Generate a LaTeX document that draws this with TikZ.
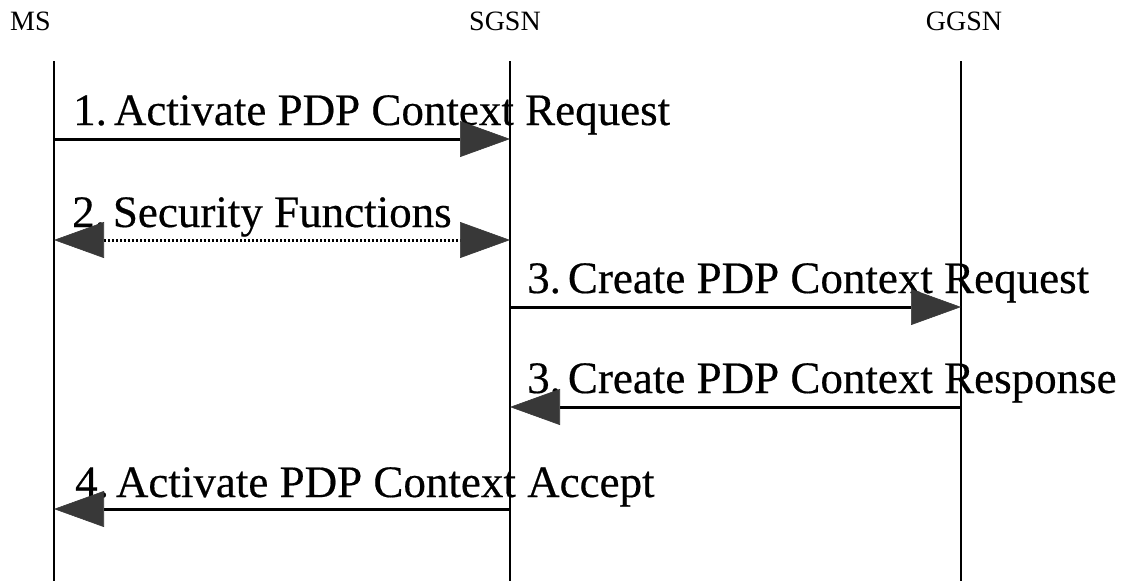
\documentclass[tikz,border=0pt]{standalone}
\usepackage{fontspec}
\setmainfont{Liberation Serif}
\newfontfamily\labelfont[FakeBold=0.4]{Liberation Serif}
\usetikzlibrary{arrows.meta}
\definecolor{tipgray}{gray}{0.22}

\begin{document}
\begin{tikzpicture}[x=1pt,y=-1pt,
  lifeline/.style={line width=1.4pt},
  head/.style={font=\fontsize{28}{30}\selectfont, inner sep=0pt, anchor=base},
  msglabel/.style={font=\labelfont\fontsize{45}{48}\selectfont, inner sep=0pt, anchor=base west},
  bigtip/.tip={Triangle[length=50pt,width=36pt,line width=0.6pt,fill=tipgray,color=tipgray]},
  msg/.style={line width=3pt, -{bigtip}},
  dotmsg/.style={line width=3pt, dash pattern=on 2.6pt off 1.4pt, {bigtip}-{bigtip}}
]
  \useasboundingbox (0,0) rectangle (1126,581);

  % entity names
  \node[head, anchor=base west] (ms)   at (10,30)  {MS};
  \node[head]                   (sgsn) at (505,30) {SGSN};
  \node[head]                   (ggsn) at (964,30) {GGSN};

  % message labels (arrows are drawn on top of them)
  \node[msglabel] (l1) at (73,125)  {1.\kern7pt Activate PDP Context Request};
  \node[msglabel] (l2) at (72,227)  {2.\kern7pt Security Functions};
  \node[msglabel] (l3) at (527,293) {3.\kern7pt Create PDP Context Request};
  \node[msglabel] (l4) at (527,393) {3.\kern7pt Create PDP Context Response};
  \node[msglabel] (l5) at (75,497)  {4.\kern7pt Activate PDP Context Accept};

  % lifeline ends
  \coordinate (msT)   at (54,61);   \coordinate (msB)   at (54,581);
  \coordinate (sgsnT) at (510,61);  \coordinate (sgsnB) at (510,581);
  \coordinate (ggsnT) at (961,61);  \coordinate (ggsnB) at (961,581);

  % message end points on the lifelines
  \coordinate (ms1) at (54,139);   \coordinate (sg1) at (510,139);
  \coordinate (ms2) at (54,240);   \coordinate (sg2) at (510,240);
  \coordinate (sg3) at (510,307);  \coordinate (gg3) at (961,307);
  \coordinate (sg4) at (510,407);  \coordinate (gg4) at (961,407);
  \coordinate (ms5) at (54,509);   \coordinate (sg5) at (510,509);

  % lifelines
  \draw[lifeline] (msT) -- (msB);
  \draw[lifeline] (sgsnT) -- (sgsnB);
  \draw[lifeline] (ggsnT) -- (ggsnB);

  % messages
  \draw[msg]    (ms1) -- (sg1);
  \draw[dotmsg] (ms2) -- (sg2);
  \draw[msg]    (sg3) -- (gg3);
  \draw[msg]    (gg4) -- (sg4);
  \draw[msg]    (sg5) -- (ms5);
\end{tikzpicture}
\end{document}
